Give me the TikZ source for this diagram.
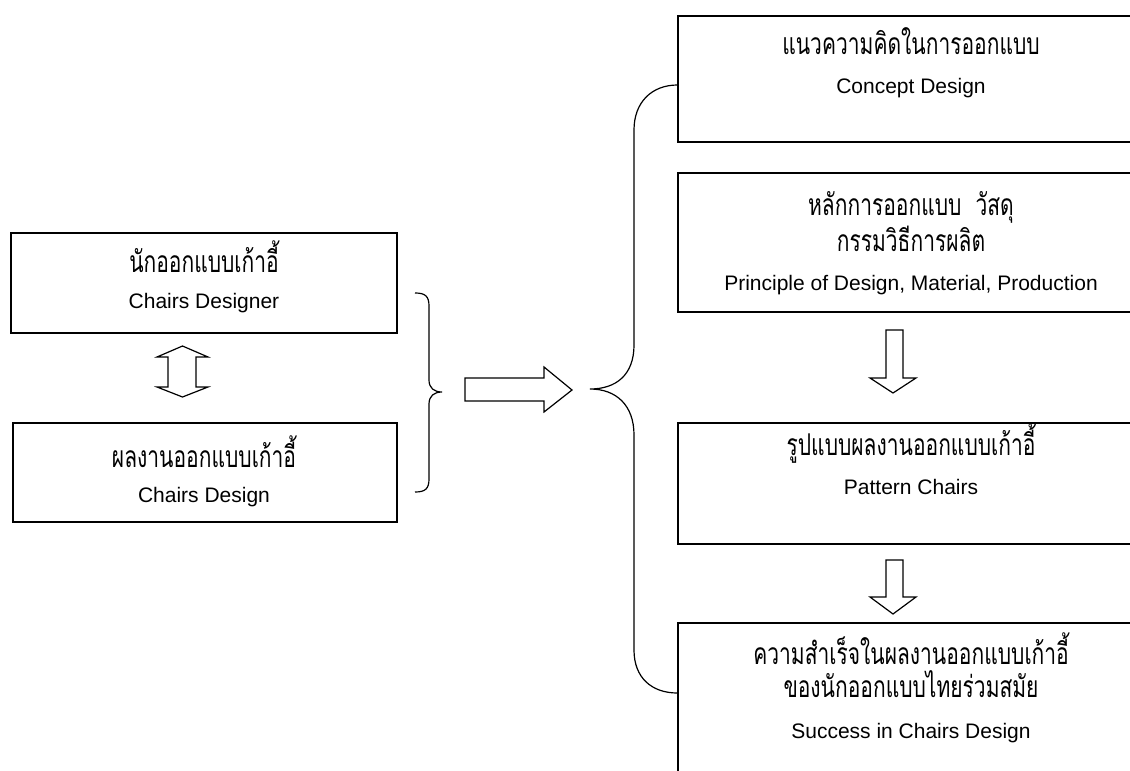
\documentclass[tikz,border=0pt]{standalone}
\usepackage{fontspec}
\setmainfont{Liberation Sans}
\newfontfamily\thaifont[Script=Thai,FakeStretch=0.7]{Loma}
\begin{document}
\begin{tikzpicture}[x=1pt,y=-1pt,
  box/.style={draw=black, line width=1.3pt, inner sep=0pt},
  th/.style={font=\thaifont\fontsize{30}{34}\selectfont, inner sep=0pt, yshift=6pt},
  en/.style={font=\fontsize{21}{25}\selectfont, inner sep=0pt},
  blockarrow/.style={draw=black, line width=1.2pt, line join=miter, fill=white},
  bracepath/.style={draw=black, line width=1.2pt}]
\useasboundingbox (0,0) rectangle (1130,771);
\clip (0,0) rectangle (1130,771);
\fill[white] (0,0) rectangle (1130,771);
% left boxes
\node[box, minimum width=386pt, minimum height=100pt] (lb1) at (204,283) {};
\node[box, minimum width=384pt, minimum height=99pt] (lb2) at (205,472.5) {};
% right boxes
\node[box, minimum width=466pt, minimum height=126pt] (rb1) at (911,79) {};
\node[box, minimum width=466pt, minimum height=139pt] (rb2) at (911,242.5) {};
\node[box, minimum width=466pt, minimum height=121pt] (rb3) at (911,483.5) {};
\node[box, minimum width=466pt, minimum height=177pt] (rb4) at (911,711.5) {};
% texts
\node[th] (t1a) at (204,263) {นักออกแบบเก้าอี้};
\node[en] (t1b) at (204,303) {Chairs Designer};
\node[th] (t2a) at (204,458) {ผลงานออกแบบเก้าอี้};
\node[en] (t2b) at (204,497) {Chairs Design};
\node[th] (t3a) at (911,47) {แนวความคิดในการออกแบบ};
\node[en] (t3b) at (911,88) {Concept Design};
\node[th] (t4a) at (911,213) {หลักการออกแบบ\ \ วัสดุ};
\node[th] (t4b) at (911,245) {กรรมวิธีการผลิต};
\node[en] (t4c) at (911,285) {Principle of Design, Material, Production};
\node[th] (t5a) at (911,450) {รูปแบบผลงานออกแบบเก้าอี้};
\node[en] (t5b) at (911,487) {Pattern Chairs};
\node[th] (t6a) at (911,655) {ความสำเร็จในผลงานออกแบบเก้าอี้};
\node[th] (t6b) at (911,690) {ของนักออกแบบไทยร่วมสมัย};
\node[en] (t6c) at (911,733) {Success in Chairs Design};
% double arrow between left boxes
\draw[blockarrow] (168,357) -- (157,357) -- (182.5,346) -- (208,357) -- (196,357)
  -- (196,387) -- (208,387) -- (182.5,397) -- (157,387) -- (168,387) -- cycle;
% left brace
\coordinate (lbtip) at (442,392);
\draw[bracepath] (415,293) .. controls (425,293) and (429,296) .. (429,306) -- (429,380)
  .. controls (429,388) and (434,392) .. (lbtip)
  .. controls (434,392) and (429,396) .. (429,404) -- (429,479)
  .. controls (429,489) and (425,492) .. (415,492);
% big right arrow
\draw[blockarrow] (465,378) -- (544,378) -- (544,367) -- (572,390) -- (544,412)
  -- (544,401) -- (465,401) -- cycle;
% big brace
\coordinate (bbtip) at (590,389);
\draw[bracepath] (rb1.west |- 0,85) .. controls (652,85) and (634,102) .. (634,130) -- (634,345)
  .. controls (634,375) and (616,389) .. (bbtip)
  .. controls (616,389) and (634,405) .. (634,435) -- (634,650)
  .. controls (634,678) and (652,693) .. (rb4.west |- 0,693);
% down arrows
\draw[blockarrow] (886,330) -- (903,330) -- (903,378) -- (916,378) -- (893,393)
  -- (870,378) -- (886,378) -- cycle;
\draw[blockarrow] (886,560) -- (903,560) -- (903,597) -- (916,597) -- (893,614)
  -- (870,597) -- (886,597) -- cycle;
\end{tikzpicture}
\end{document}
